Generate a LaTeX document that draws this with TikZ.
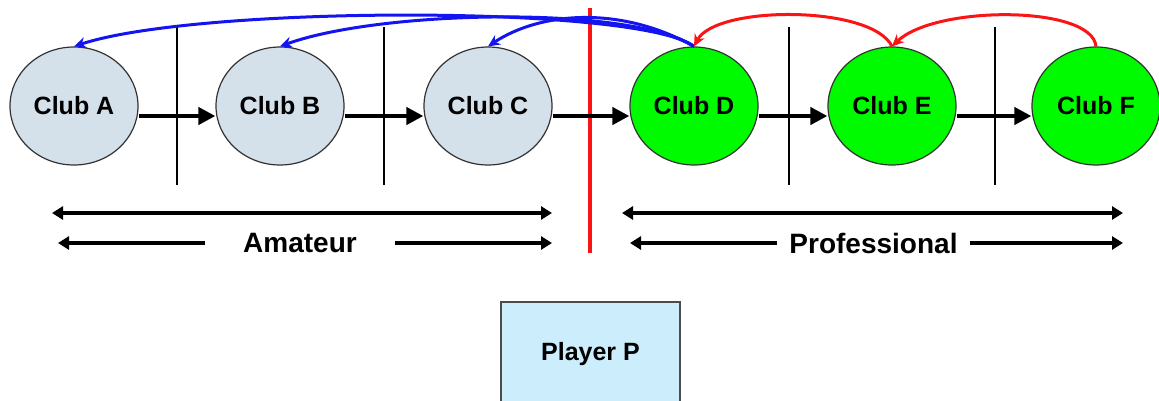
\documentclass[tikz,border=0pt]{standalone}
\usepackage{fontspec}
\setmainfont{Liberation Sans}
\usetikzlibrary{arrows.meta,shapes.geometric}

\definecolor{amfill}{RGB}{212,224,234}
\definecolor{profill}{RGB}{0,250,0}
\definecolor{playerfill}{RGB}{204,238,252}
\definecolor{backblue}{RGB}{20,20,240}
\definecolor{backred}{RGB}{250,20,20}

\begin{document}
\begin{tikzpicture}[x=1pt, y=-1pt,
    club/.style={ellipse, draw=black!80, line width=1.2pt, minimum width=128pt,
      minimum height=118pt, inner sep=0pt, font=\fontsize{25}{30}\selectfont\bfseries},
    amclub/.style={club, fill=amfill},
    proclub/.style={club, fill=profill},
    move/.style={line width=4pt, -{Triangle[length=17pt,width=17pt]}},
    span/.style={line width=4pt, {Triangle[length=11pt,width=13pt]}-{Triangle[length=11pt,width=13pt]}},
    tag/.style={fill=white, inner ysep=2pt, font=\fontsize{28}{32}\selectfont\bfseries},
    back/.style={line width=3pt, -{Stealth[length=12pt,width=11pt]}}]
    \useasboundingbox (0,0) rectangle (1159,400);

    % dividers between clubs
    \foreach \x in {177,384,789,995}
      \draw[line width=1.8pt] (\x,27) -- (\x,185);
    \draw[line width=4pt, color=backred] (590,8) -- (590,253);

    \node[amclub] (A) at (74,106) {Club A};
    \node[amclub] (B) at (280,106) {Club B};
    \node[amclub] (C) at (488,106) {Club C};
    \node[proclub] (D) at (694,106) {Club D};
    \node[proclub] (E) at (892,106) {Club E};
    \node[proclub] (F) at (1096,106) {Club F};

    \draw[move] ([yshift=-10pt]A.east) -- ([yshift=-10pt]B.west);
    \draw[move] ([yshift=-10pt]B.east) -- ([yshift=-10pt]C.west);
    \draw[move] ([yshift=-10pt]C.east) -- ([yshift=-10pt]D.west);
    \draw[move] ([yshift=-10pt]D.east) -- ([yshift=-10pt]E.west);
    \draw[move] ([yshift=-10pt]E.east) -- ([yshift=-10pt]F.west);

    \draw[back, color=backblue] (D.north) .. controls (640,5) and (200,5) .. (A.north);
    \draw[back, color=backblue] (D.north) .. controls (630,5) and (380,10) .. (B.north);
    \draw[back, color=backblue] (D.north) .. controls (620,5) and (540,12) .. (C.north);
    \draw[back, color=backred] (F.north) .. controls (1092,5) and (935,5) .. (E.north);
    \draw[back, color=backred] (E.north) .. controls (872,5) and (716,5) .. (D.north);

    \coordinate (am1l) at (52,213);
    \coordinate (am1r) at (552,213);
    \coordinate (am2l) at (58,243);
    \coordinate (am2r) at (552,243);
    \coordinate (pro1l) at (622,213);
    \coordinate (pro1r) at (1123,213);
    \coordinate (pro2l) at (630,243);
    \coordinate (pro2r) at (1123,243);
    \draw[span] (am1l) -- (am1r);
    \draw[span] (am2l) -- node[tag, inner xsep=38pt, xshift=-5pt] (am) {Amateur} (am2r);
    \draw[span] (pro1l) -- (pro1r);
    \draw[span] (pro2l) -- node[tag, inner xsep=12pt, xshift=-3pt] (pro) {Professional} (pro2r);

    \node[draw=black!70, line width=1.2pt, fill=playerfill, minimum width=179pt,
      minimum height=104pt, font=\fontsize{25}{30}\selectfont\bfseries] (P) at (590.5,354) {Player P};
  \end{tikzpicture}
\end{document}
